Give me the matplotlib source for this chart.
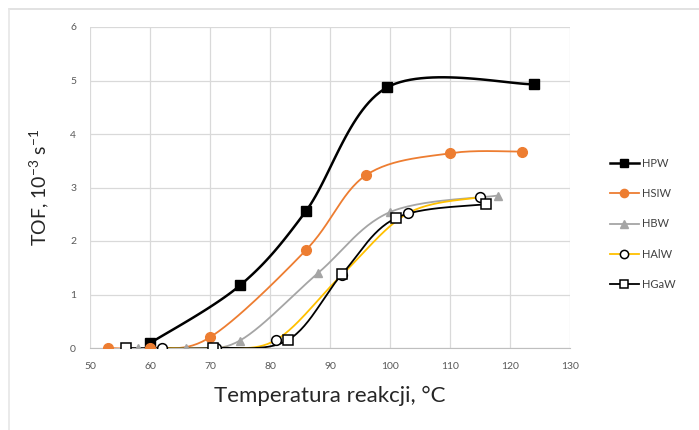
import numpy as np
import matplotlib
matplotlib.use("Agg")
import matplotlib.pyplot as plt
from matplotlib.lines import Line2D

# dane
hpw_t = [60, 75, 86, 99.5, 124]
hpw_tof = [0.09, 1.17, 2.56, 4.87, 4.93]

hsiw_t = [53, 60, 70, 86, 96, 110, 122]
hsiw_tof = [0.0, 0.0, 0.2, 1.83, 3.23, 3.64, 3.67]

hbw_t = [58, 66, 75, 88, 100, 118]
hbw_tof = [0.0, 0.0, 0.14, 1.4, 2.54, 2.85]

halw_t = [62, 71, 81, 92, 103, 115]
halw_tof = [0.0, 0.0, 0.15, 1.37, 2.52, 2.82]

hgaw_t = [56, 70.5, 83, 92, 101, 116]
hgaw_tof = [0.0, 0.0, 0.15, 1.38, 2.43, 2.69]

x_ticks = [50, 60, 70, 80, 90, 100, 110, 120, 130]
y_ticks = [0, 1, 2, 3, 4, 5, 6]

plt.rcParams["font.family"] = ["Lato", "DejaVu Sans"]
plt.rcParams["mathtext.default"] = "regular"


def smooth(x, y, n=30):
    # wygladzanie jak w Excelu (krzywe Beziera, Catmull-Rom)
    p = np.column_stack([x, y]).astype(float)
    pts = []
    for i in range(len(p) - 1):
        p0 = p[i - 1] if i > 0 else p[i]
        p1, p2 = p[i], p[i + 1]
        p3 = p[i + 2] if i + 2 < len(p) else p[i + 1]
        c1 = p1 + (p2 - p0) / 6
        c2 = p2 - (p3 - p1) / 6
        t = np.linspace(0, 1, n)[:, None]
        seg = ((1 - t) ** 3 * p1 + 3 * (1 - t) ** 2 * t * c1
               + 3 * (1 - t) * t ** 2 * c2 + t ** 3 * p2)
        pts.append(seg if i == 0 else seg[1:])
    pts = np.vstack(pts)
    return pts[:, 0], pts[:, 1]


fig = plt.figure(figsize=(6.99, 4.30), dpi=100)
# ramka obszaru wykresu (widoczna tylko gora i lewa strona)
fig.add_artist(Line2D([9 / 699, 1], [1 - 9 / 430, 1 - 9 / 430], transform=fig.transFigure,
                      color="#DDDDDD", linewidth=1.2))
fig.add_artist(Line2D([9 / 699, 9 / 699], [0, 1 - 9 / 430], transform=fig.transFigure,
                      color="#E6E6E6", linewidth=1.2))

ax = fig.add_axes([90 / 699, 1 - 348 / 430, 480 / 699, 321 / 430])

series = [
    ("HPW", hpw_t, hpw_tof, "black", 1.8, dict(marker="s", ms=7, mfc="black", mec="black")),
    ("HSIW", hsiw_t, hsiw_tof, "#ED7D31", 1.3, dict(marker="o", ms=7, mfc="#ED7D31", mec="#ED7D31")),
    ("HBW", hbw_t, hbw_tof, "#A5A5A5", 1.3, dict(marker="^", ms=6, mfc="#A5A5A5", mec="#A5A5A5")),
    ("HAlW", halw_t, halw_tof, "#FFC000", 1.3, dict(marker="o", ms=7, mfc="white", mec="black", mew=1.1)),
    ("HGaW", hgaw_t, hgaw_tof, "black", 1.3, dict(marker="s", ms=7, mfc="white", mec="black", mew=1.1)),
]

handles = []
for name, t, tof, col, lw, mk in series:
    sx, sy = smooth(t, tof)
    ax.plot(sx, sy, color=col, linewidth=lw, zorder=3)
    ax.plot(t, tof, linestyle="none", zorder=4, **mk)
    handles.append(Line2D([], [], color=col, linewidth=lw, label=name, **mk))

ax.set_xlim(50, 130)
ax.set_ylim(0, 6)
ax.set_xticks(x_ticks)
ax.set_yticks(y_ticks)
ax.grid(True, color="#D9D9D9", linewidth=0.9)
ax.set_axisbelow(True)
for s in ["top", "right", "left"]:
    ax.spines[s].set_visible(False)
ax.spines["bottom"].set_color("#BFBFBF")
ax.tick_params(length=0, labelsize=7.5, labelcolor="#595959", pad=10)

ax.set_xlabel("Temperatura reakcji, \u00b0C", fontsize=16, color="#262626", labelpad=11)
ax.set_ylabel("TOF, 10$^{-3}$ s$^{-1}$", fontsize=14, color="#262626", labelpad=14)

fig.legend(handles=handles, loc="center left", bbox_to_anchor=(600 / 699, 1 - 224 / 430),
           frameon=False, fontsize=8, handlelength=2.6, labelspacing=1.75,
           handletextpad=0.3, labelcolor="#404040", markerscale=0.85)

fig.savefig("out.png", dpi=100)
